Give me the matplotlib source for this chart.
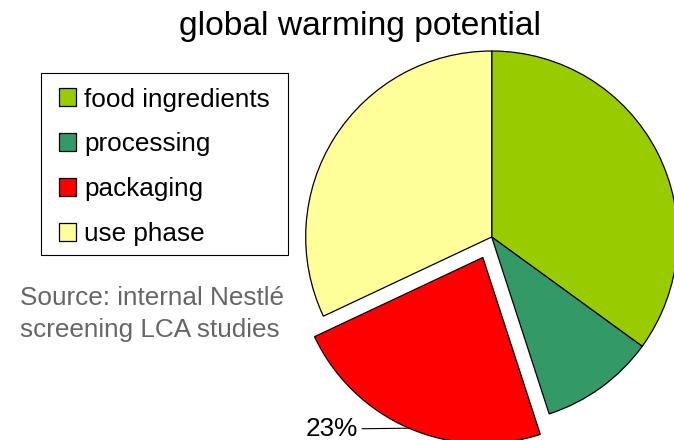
import numpy as np
import matplotlib
matplotlib.use("Agg")
import matplotlib.pyplot as plt
from matplotlib.patches import Patch, Rectangle

# shares of global warming potential (percent)
categories = ["food ingredients", "processing", "packaging", "use phase"]
shares = [35, 10, 23, 32]
colors = ["#99CC00", "#339966", "#FF0000", "#FFFF99"]
explode = [0, 0, 0.12, 0]
labelled = "packaging"

plt.rcParams["font.family"] = ["Liberation Sans", "DejaVu Sans"]

W, H = 674, 440
fig = plt.figure(figsize=(W / 100, H / 100), dpi=100)

# pie axes: centre (492, 237) px, radius 186 px
cx, cy, r = 491.7, 237.0, 186.0
ax = fig.add_axes([(cx - r) / W, (H - cy - r) / H, 2 * r / W, 2 * r / H])
wedges, _ = ax.pie(shares, colors=colors, explode=explode, startangle=90,
                   counterclock=False,
                   wedgeprops=dict(edgecolor="black", linewidth=0.9))
for w in wedges:
    w.set_clip_on(False)
ax.set_xlim(-1, 1)
ax.set_ylim(-1, 1)
ax.set_aspect("equal")
ax.axis("off")

# percentage label with leader line for the exploded slice
i = categories.index(labelled)
w = wedges[i]
mid = np.deg2rad((w.theta1 + w.theta2) / 2)
ox, oy = w.center
px, py = ox + w.r * np.cos(mid), oy + w.r * np.sin(mid)
ax.annotate(f"{shares[i]}%", xy=(px, py), xytext=(px - 0.275, py - 0.005),
            ha="right", va="center", fontsize=18.8, annotation_clip=False,
            arrowprops=dict(arrowstyle="-", color="black", lw=0.8,
                            shrinkA=1, shrinkB=0))

fig.text(360 / W, 1 - 35 / H, "global warming potential", ha="center",
         va="baseline", fontsize=24.2)

# legend: entries without frame, box drawn separately
handles = [Patch(facecolor=c, edgecolor="black", linewidth=0.9) for c in colors]
leg = fig.legend(handles, categories, loc="upper left",
                 bbox_to_anchor=(59 / W, 1 - 87.5 / H), borderaxespad=0,
                 fontsize=18.8, frameon=False, handlelength=0.67,
                 handleheight=0.67, handletextpad=0.3, labelspacing=0.8,
                 borderpad=0)
fig.add_artist(Rectangle((41 / W, 1 - 255 / H), 247 / W, 182 / H,
                         transform=fig.transFigure, fill=False,
                         edgecolor="black", linewidth=0.8))

fig.text(20 / W, 1 - 314 / H, "Source: internal Nestlé\nscreening LCA studies",
         ha="left", va="center", fontsize=18.8, color="#666666",
         linespacing=1.4)

fig.savefig("out.png", dpi=100)
